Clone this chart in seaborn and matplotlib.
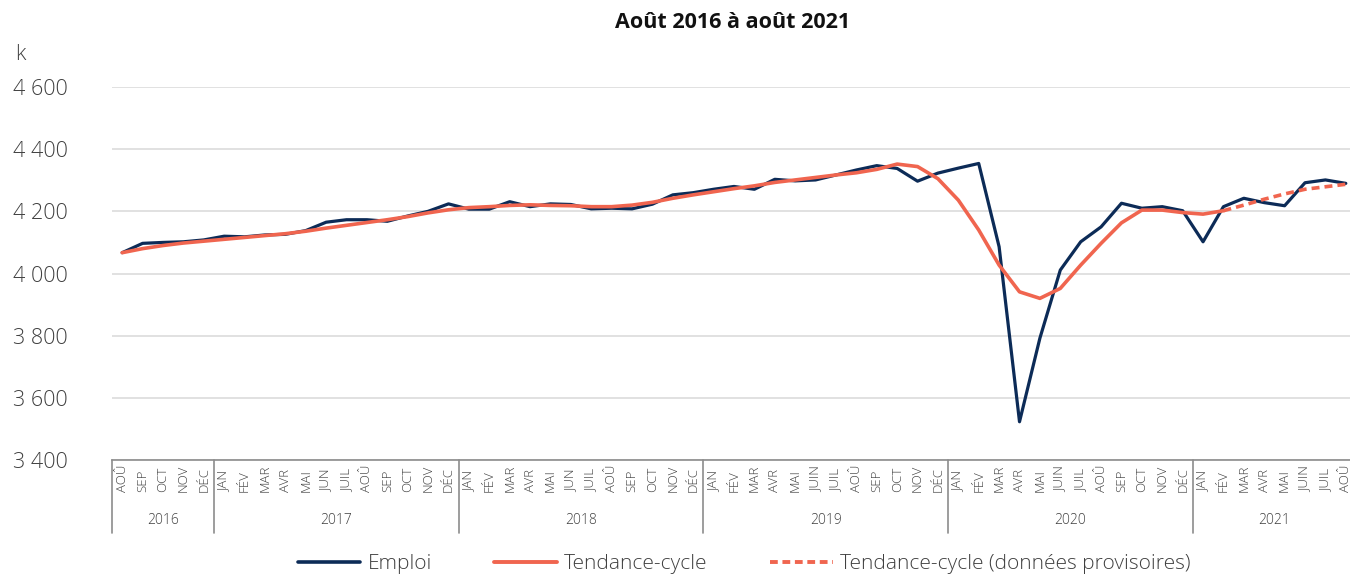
import matplotlib
matplotlib.use('Agg')
import matplotlib.pyplot as plt
import matplotlib.transforms as mtransforms
from matplotlib.ticker import FuncFormatter
from matplotlib.lines import Line2D
import seaborn as sb
import pandas as pd

# Août 2016 -> août 2021
months = ['AOÛ', 'SEP', 'OCT', 'NOV', 'DÉC'] + \
         ['JAN', 'FÉV', 'MAR', 'AVR', 'MAI', 'JUN', 'JUIL', 'AOÛ', 'SEP', 'OCT', 'NOV', 'DÉC'] * 2 + \
         ['JAN', 'FÉV', 'MAR', 'AVR', 'MAI', 'JUIN', 'JUIL', 'AOÛ', 'SEP', 'OCT', 'NOV', 'DÉC'] * 2 + \
         ['JAN', 'FÉV', 'MAR', 'AVR', 'MAI', 'JUIN', 'JUIL', 'AOÛ']
years = ['2016', '2017', '2018', '2019', '2020', '2021']
year_counts = [5, 12, 12, 12, 12, 8]

emploi = [4067, 4097, 4100, 4102, 4108, 4120, 4118, 4124, 4126, 4138, 4165, 4173,
          4173, 4168, 4185, 4200, 4224, 4207, 4207, 4231, 4215, 4224, 4222, 4208,
          4210, 4208, 4223, 4253, 4260, 4271, 4280, 4271, 4303, 4298, 4301, 4317,
          4333, 4347, 4338, 4297, 4323, 4339, 4354, 4086, 3523, 3792, 4011, 4102,
          4150, 4226, 4210, 4215, 4202, 4102, 4215, 4242, 4228, 4218, 4292, 4301, 4290]
tendance = [4067, 4080, 4090, 4098, 4104, 4110, 4116, 4122, 4128, 4136, 4146, 4155,
            4164, 4173, 4183, 4195, 4205, 4212, 4215, 4219, 4221, 4219, 4218, 4215,
            4215, 4220, 4229, 4242, 4253, 4263, 4273, 4282, 4293, 4301, 4309, 4317,
            4324, 4335, 4352, 4344, 4305, 4236, 4140, 4027, 3941, 3920, 3952, 4027,
            4097, 4163, 4204, 4204, 4196, 4191, 4202, 4220, 4239, 4256, 4271, 4279, 4287]
n_provisoire = 7  # last points drawn dashed (fév. -> août 2021)

NAVY = '#0c2b57'
ORANGE = '#f0654f'
GRID = '#dcdcdc'
AXIS = '#8c8c8c'
TXT = '#404040'

sb.set_theme(style='white')
plt.rcParams['font.family'] = ['Open Sans', 'DejaVu Sans']

n = len(emploi)
df = pd.DataFrame({'idx': range(n), 'emploi': emploi, 'tendance': tendance})
split = n - n_provisoire

fig = plt.figure(figsize=(13.5, 5.78), dpi=100)
ax = fig.add_axes([112 / 1350, 118 / 578, 1244 / 1350, 373 / 578])

sb.lineplot(data=df, x='idx', y='emploi', ax=ax, color=NAVY, linewidth=2.3)
sb.lineplot(data=df.iloc[:split + 1], x='idx', y='tendance', ax=ax, color=ORANGE, linewidth=2.6)
sb.lineplot(data=df.iloc[split:], x='idx', y='tendance', ax=ax, color=ORANGE, linewidth=2.6,
            dashes=False, linestyle=(0, (2.2, 1.4)))

ax.set_xlim(-0.5, n - 0.5)
ax.set_ylim(3400, 4600)
ax.set_yticks(range(3400, 4601, 200))
ax.yaxis.set_major_formatter(FuncFormatter(lambda v, p: f'{int(v):,}'.replace(',', ' ')))
# pad is in points: 44 px at 100 dpi
ax.tick_params(axis='y', length=0, pad=44 * 72 / 100, labelsize=15.5, labelcolor=TXT)
for lab in ax.get_yticklabels():
    lab.set_fontweight('light')
ax.yaxis.grid(True, color=GRID, linewidth=1.2)
ax.set_axisbelow(True)
for s in ['top', 'right', 'left']:
    ax.spines[s].set_visible(False)
ax.spines['bottom'].set_color(AXIS)
ax.spines['bottom'].set_linewidth(1.2)
ax.set_xlabel('')
ax.set_ylabel('')
ax.set_xticks([])

trans = mtransforms.blended_transform_factory(ax.transData, ax.transAxes)
h = 373.0
for i, m in enumerate(months):
    ax.text(i, -(492 - 460) / h, m, rotation=90, ha='center', va='bottom',
            fontsize=9.5, fontweight='light', color=TXT, transform=trans, clip_on=False)

start = -0.5
ax.plot([start, start], [0, -(533 - 460) / h], transform=trans, color=AXIS, lw=1.2, clip_on=False)
for y, c in zip(years, year_counts):
    ax.text(start + c / 2, -(520 - 460) / h, y, ha='center', va='center',
            fontsize=10, fontweight='light', color=TXT, transform=trans, clip_on=False)
    start += c
    ax.plot([start, start], [0, -(533 - 460) / h], transform=trans, color=AXIS, lw=1.2, clip_on=False)

fig.text(15 / 1350, 1 - 55 / 578, 'k', fontsize=15.5, fontweight='light', color=TXT,
         va='center', ha='left')
fig.text(733 / 1350, 1 - 23 / 578, 'Août 2016 à août 2021', fontsize=15.5, fontweight='bold',
         color='#111111', ha='center', va='center')

handles = [Line2D([], [], color=NAVY, lw=2.6),
           Line2D([], [], color=ORANGE, lw=2.8),
           Line2D([], [], color=ORANGE, lw=2.8, linestyle=(0, (2.0, 1.2)))]
labels = ['Emploi', 'Tendance-cycle', 'Tendance-cycle (données provisoires)']
leg = fig.legend(handles, labels, loc='center', bbox_to_anchor=(744 / 1350, 14 / 578), ncol=3,
                 frameon=False, handlelength=3.0, handletextpad=0.35,
                 columnspacing=3.0, labelcolor=TXT,
                 prop={'size': 15, 'weight': 'light'})

fig.savefig('out.png', dpi=100)
